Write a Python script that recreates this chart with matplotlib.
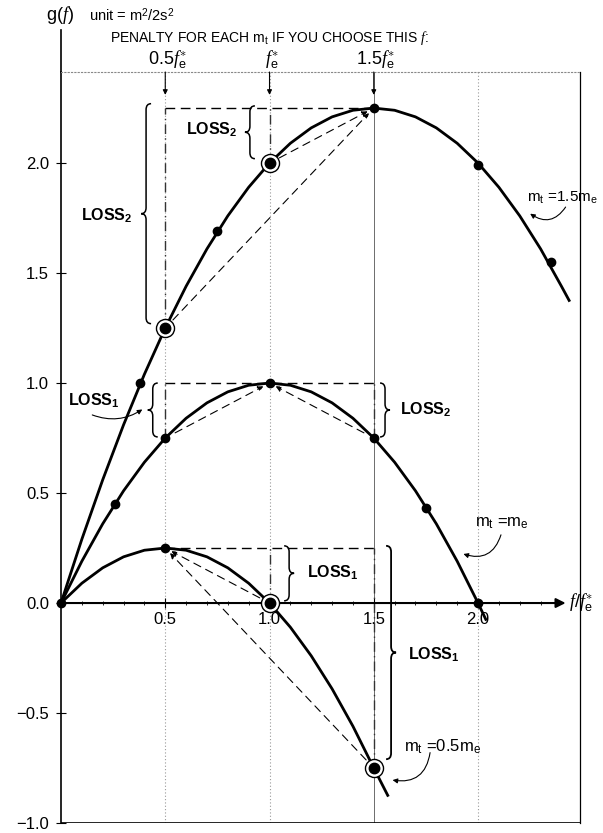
import matplotlib
matplotlib.use('Agg')
import matplotlib.pyplot as plt
from matplotlib.path import Path
from matplotlib.patches import PathPatch

plt.rcParams['font.family'] = ['Liberation Sans', 'DejaVu Sans']
plt.rcParams['mathtext.fontset'] = 'custom'
plt.rcParams['mathtext.rm'] = 'Liberation Sans'
plt.rcParams['mathtext.it'] = 'Liberation Serif:italic'
plt.rcParams['mathtext.bf'] = 'Liberation Sans:bold'

# ---------------- data ----------------
# curve m_t = 1.5 m_e
f_15 = [0.0, 0.1, 0.2, 0.3, 0.4, 0.5, 0.6, 0.7, 0.8, 0.9, 1.0, 1.1, 1.2, 1.3,
        1.4, 1.5, 1.6, 1.7, 1.8, 1.9, 2.0, 2.1, 2.2, 2.3, 2.4, 2.44]
g_15 = [0.0, 0.29, 0.56, 0.81, 1.04, 1.25, 1.44, 1.61, 1.76, 1.89, 2.00, 2.09,
        2.16, 2.21, 2.24, 2.25, 2.24, 2.21, 2.16, 2.09, 2.00, 1.89, 1.76, 1.61,
        1.44, 1.37]
# curve m_t = m_e
f_10 = [0.0, 0.1, 0.2, 0.3, 0.4, 0.5, 0.6, 0.7, 0.8, 0.9, 1.0, 1.1, 1.2, 1.3,
        1.4, 1.5, 1.6, 1.7, 1.8, 1.9, 2.0, 2.04]
g_10 = [0.0, 0.19, 0.36, 0.51, 0.64, 0.75, 0.84, 0.91, 0.96, 0.99, 1.00, 0.99,
        0.96, 0.91, 0.84, 0.75, 0.64, 0.51, 0.36, 0.19, 0.0, -0.08]
# curve m_t = 0.5 m_e
f_05 = [0.0, 0.1, 0.2, 0.3, 0.4, 0.5, 0.6, 0.7, 0.8, 0.9, 1.0, 1.1, 1.2, 1.3,
        1.4, 1.5, 1.57]
g_05 = [0.0, 0.09, 0.16, 0.21, 0.24, 0.25, 0.24, 0.21, 0.16, 0.09, 0.0, -0.11,
        -0.24, -0.39, -0.56, -0.75, -0.88]

# plain dots
dot_f = [0.0, 0.38, 0.75, 1.5, 2.0, 2.35, 0.26, 0.5, 1.0, 1.5, 1.75, 2.0, 0.5]
dot_g = [0.0, 1.0, 1.69, 2.25, 1.99, 1.55, 0.45, 0.75, 1.0, 0.75, 0.43, 0.0, 0.25]
# circled points
circ_f = [0.5, 1.0, 1.0, 1.5]
circ_g = [1.25, 2.0, 0.0, -0.75]

# dashed arrows (start f, start g, end f, end g)
arr_f0 = [0.5, 1.0, 0.5, 1.5, 1.0, 1.5]
arr_g0 = [1.25, 2.0, 0.75, 0.75, 0.0, -0.75]
arr_f1 = [1.5, 1.5, 1.0, 1.0, 0.5, 0.5]
arr_g1 = [2.25, 2.25, 1.0, 1.0, 0.25, 0.25]

y_ticks = [-1.0, -0.5, 0.0, 0.5, 1.0, 1.5, 2.0]
y_ticklabels = ['\u22121.0', '\u22120.5', '0.0', '0.5', '1.0', '1.5', '2.0']
x_ticks = [0.5, 1.0, 1.5, 2.0]
x_ticklabels = ['0.5', '1.0', '1.5', '2.0']
choice_f = [0.5, 1.0, 1.5]
choice_labels = [r'$0.5f^{\ast}_{\mathrm{e}}$', r'$f^{\ast}_{\mathrm{e}}$',
                 r'$1.5f^{\ast}_{\mathrm{e}}$']

# ---------------- figure ----------------
W, H = 603, 833
fig = plt.figure(figsize=(W / 100, H / 100), dpi=100)
ax = fig.add_axes([61 / W, 10 / H, 519 / W, 751 / H])
XMAX, YMIN, YMAX = 2.489, -1.0, 2.414
ax.set_xlim(0, XMAX)
ax.set_ylim(YMIN, YMAX)
XPU = 519 / XMAX
YPU = 751 / (YMAX - YMIN)

# spines
ax.spines['left'].set_linewidth(1.2)
ax.spines['top'].set_color('#888888')
ax.spines['top'].set_linestyle((0, (1, 2)))
ax.spines['top'].set_linewidth(0.8)
ax.spines['right'].set_linewidth(0.9)
ax.spines['bottom'].set_position(('data', 0))
ax.spines['bottom'].set_visible(False)
ax.plot([0, 0], [YMAX, 2.605], color='black', lw=1.2, clip_on=False)
ax.axhline(-1.0, color='black', lw=1.2)

ax.set_yticks(y_ticks)
ax.set_yticklabels(y_ticklabels, fontsize=12)
ax.set_xticks(x_ticks)
ax.set_xticklabels(x_ticklabels, fontsize=12)
ax.set_xticks([i / 10 for i in range(1, 24)], minor=True)
ax.tick_params(axis='y', direction='inout', length=7, width=0.8, pad=5)
ax.tick_params(axis='x', which='major', direction='inout', length=7, width=0.8, pad=3)
ax.tick_params(axis='x', which='minor', direction='inout', length=3, width=0.6)

# x axis arrow
ax.annotate('', xy=(2.42, 0), xytext=(0, 0),
            arrowprops=dict(arrowstyle='-|>', lw=1.5, color='black',
                            mutation_scale=14, shrinkA=0, shrinkB=0), annotation_clip=False)
ax.text(2.435, 0.0, r'$f/f^{\ast}_{\mathrm{e}}$', fontsize=13, va='center', ha='left')

# vertical guide lines
for xv in [0.5, 1.0, 2.0]:
    ax.plot([xv, xv], [YMIN, YMAX], color='#999999', lw=0.8, ls=(0, (1, 2)), zorder=1)
ax.plot([1.5, 1.5], [YMIN, YMAX], color='#555555', lw=0.6, zorder=1)

# dashed reference lines
dash = (0, (7, 4))
for y in [2.25, 1.0, 0.25]:
    ax.plot([0.5, 1.5], [y, y], color='black', lw=1.0, ls=dash, zorder=2)
seg_x = [0.5, 1.0, 0.5, 1.5, 1.0, 1.5]
seg_y0 = [1.25, 2.0, 0.75, 0.75, 0.0, -0.75]
seg_y1 = [2.25, 2.25, 1.0, 1.0, 0.25, 0.25]
for xs, a, b in zip(seg_x, seg_y0, seg_y1):
    ax.plot([xs, xs], [a, b], color='#333333', lw=1.0, ls=(0, (7, 3, 1, 3)), zorder=2)

# curves
for fx, gy in [(f_15, g_15), (f_10, g_10), (f_05, g_05)]:
    ax.plot(fx, gy, color='black', lw=2.0, solid_capstyle='butt', zorder=4)

# dashed arrows
for a, b, c, d in zip(arr_f0, arr_g0, arr_f1, arr_g1):
    ax.annotate('', xy=(c, d), xytext=(a, b),
                arrowprops=dict(arrowstyle='-|>', lw=0.8, ls=(0, (7, 5)), color='black',
                                mutation_scale=8, shrinkA=8, shrinkB=5), zorder=3)

# dots
ax.plot(dot_f, dot_g, 'o', color='black', ms=6, zorder=6, clip_on=False)
ax.plot(circ_f, circ_g, 'o', mfc='white', mec='black', mew=1.0, ms=13, zorder=6)
ax.plot(circ_f, circ_g, 'o', color='black', ms=7.5, zorder=7)

# top arrows and labels
for xv, lab in zip(choice_f, choice_labels):
    ax.annotate('', xy=(xv, 2.31), xytext=(xv, YMAX),
                arrowprops=dict(arrowstyle='-|>', lw=0.8, color='black',
                                mutation_scale=7, shrinkA=0, shrinkB=0), annotation_clip=False)
    ax.text(xv + 0.01, 2.47, lab, fontsize=13, ha='center', va='center')

ax.text(0.235, 2.568, r'PENALTY FOR EACH m$_\mathregular{t}$ IF YOU CHOOSE THIS $f$:',
        fontsize=10, ha='left', va='center')
ax.text(-0.07, 2.673, r'g($f$)', fontsize=13, ha='left', va='center')
ax.text(0.134, 2.673, r'unit = m$^\mathregular{2}$/2s$^\mathregular{2}$', fontsize=10.5,
        ha='left', va='center')


# braces
def brace(x, y0, y1, d, w_px=10, r_px=6, lw=1.1):
    w = w_px / XPU
    r = r_px / YPU
    yt, yb = max(y0, y1), min(y0, y1)
    ym = (yt + yb) / 2
    xe = x - d * w / 2
    xt = x + d * w / 2
    verts = [(xe, yt), (x, yt), (x, yt - r), (x, ym + r), (x, ym), (xt, ym),
             (xt, ym), (x, ym), (x, ym - r), (x, yb + r), (x, yb), (xe, yb)]
    codes = [Path.MOVETO, Path.CURVE3, Path.CURVE3, Path.LINETO, Path.CURVE3, Path.CURVE3,
             Path.MOVETO, Path.CURVE3, Path.CURVE3, Path.LINETO, Path.CURVE3, Path.CURVE3]
    ax.add_patch(PathPatch(Path(verts, codes), fill=False, lw=lw, color='black',
                           zorder=5, clip_on=False))


brace(0.408, 2.27, 1.27, -1)
brace(0.906, 2.26, 2.02, -1)
brace(0.44, 1.0, 0.755, -1)
brace(1.554, 1.0, 0.755, 1)
brace(1.094, 0.26, 0.01, 1)
brace(1.583, 0.26, -0.71, 1, lw=1.3)

loss_kw = dict(fontsize=11.5, fontweight='bold', va='center')
ax.text(0.345, 1.76, r'LOSS$_\mathregular{2}$', ha='right', **loss_kw)
ax.text(0.844, 2.15, r'LOSS$_\mathregular{2}$', ha='right', **loss_kw)
ax.text(0.034, 0.92, r'LOSS$_\mathregular{1}$', ha='left', **loss_kw)
ax.text(1.626, 0.877, r'LOSS$_\mathregular{2}$', ha='left', **loss_kw)
ax.text(1.18, 0.136, r'LOSS$_\mathregular{1}$', ha='left', **loss_kw)
ax.text(1.664, -0.236, r'LOSS$_\mathregular{1}$', ha='left', **loss_kw)

small_arrow = dict(arrowstyle='-|>', lw=0.8, color='black', mutation_scale=7,
                   shrinkA=0, shrinkB=0)
ax.annotate('', xy=(0.39, 0.88), xytext=(0.15, 0.855),
            arrowprops=dict(connectionstyle='arc3,rad=0.25', **small_arrow))

# curve labels
m_kw = dict(fontsize=12, ha='left', va='center')
ax.text(2.235, 1.84, r'm$_\mathregular{t}$ =1.5m$_\mathregular{e}$',
        fontsize=11, ha='left', va='center')
ax.annotate('', xy=(2.25, 1.77), xytext=(2.42, 1.80),
            arrowprops=dict(connectionstyle='arc3,rad=-0.5', **small_arrow),
            annotation_clip=False)
ax.text(1.985, 0.364, r'm$_\mathregular{t}$ =m$_\mathregular{e}$', **m_kw)
ax.annotate('', xy=(1.93, 0.223), xytext=(2.11, 0.31),
            arrowprops=dict(connectionstyle='arc3,rad=-0.5', **small_arrow))
ax.text(1.645, -0.655, r'm$_\mathregular{t}$ =0.5m$_\mathregular{e}$', **m_kw)
ax.annotate('', xy=(1.59, -0.805), xytext=(1.77, -0.68),
            arrowprops=dict(connectionstyle='arc3,rad=-0.5', **small_arrow))

fig.savefig('out.png', dpi=100)
